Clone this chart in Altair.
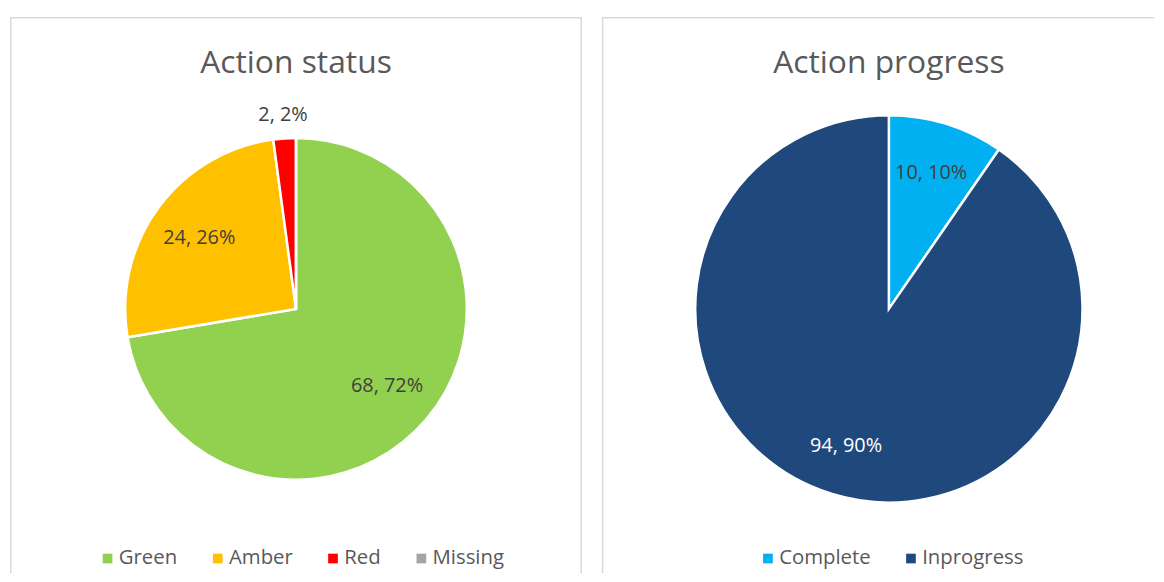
import altair as alt
import pandas as pd

# ---- data ----
STATUS_TITLE = "Action status"
STATUS_CATS = ["Green", "Amber", "Red", "Missing"]
STATUS_VALUES = [68, 24, 2, 0]

PROGRESS_TITLE = "Action progress"
PROGRESS_CATS = ["Complete", "Inprogress"]
PROGRESS_VALUES = [10, 94]

# ---- styling ----
STATUS_COLORS = ["#92D050", "#FFC000", "#FF0000", "#A5A5A5"]
PROGRESS_COLORS = ["#00B0F0", "#1F497D"]
STATUS_LABEL_R = {"Green": 120, "Amber": 121, "Red": 196, "Missing": 100}
PROGRESS_LABEL_R = {"Complete": 143, "Inprogress": 145}
WHITE_LABELS = ["Inprogress"]

FONT = "Open Sans"
TEXT_GREY = "#595959"
LABEL_GREY = "#404040"
BORDER = "#D9D9D9"
H = 560


def lookup_expr(mapping, default):
    expr = repr(default)
    for k, v in mapping.items():
        expr = f"datum.cat === '{k}' ? {repr(v)} : ({expr})"
    return expr


def panel(title, cats, values, colors, label_r, width, cx, cy,
          radius, legend_x, legend_y, right_border):
    df = pd.DataFrame({"cat": cats, "value": values, "idx": list(range(len(cats)))})
    base = alt.Chart(df)
    order = alt.Order("idx:Q")

    one = pd.DataFrame({"f": [0]})
    borders = [
        alt.Chart(one).mark_rule(color=BORDER, strokeWidth=1.5).encode(
            x=alt.value(0.75), y=alt.value(0), y2=alt.value(H)),
        alt.Chart(one).mark_rule(color=BORDER, strokeWidth=1.5).encode(
            x=alt.value(0), x2=alt.value(width), y=alt.value(0.75)),
    ]
    if right_border:
        borders.append(
            alt.Chart(one).mark_rule(color=BORDER, strokeWidth=1.5).encode(
                x=alt.value(width - 0.75), y=alt.value(0), y2=alt.value(H)))

    arcs = base.mark_arc(outerRadius=radius, stroke="white", strokeWidth=2.5).encode(
        theta=alt.Theta("value:Q", stack=True),
        order=order,
        color=alt.Color(
            "cat:N",
            sort=cats,
            scale=alt.Scale(domain=cats, range=colors),
            legend=alt.Legend(
                title=None,
                orient="none",
                direction="horizontal",
                legendX=legend_x,
                legendY=legend_y,
                padding=0,
                symbolType="square",
                symbolSize=95,
                symbolStrokeWidth=0,
                labelFont=FONT,
                labelFontSize=20.5,
                labelColor=TEXT_GREY,
                labelOffset=1,
                columnPadding=30,
            ),
        ),
        x=alt.value(cx),
        y=alt.value(cy),
    )

    white_test = " || ".join(f"datum.cat === '{c}'" for c in WHITE_LABELS)
    labels = (
        base.transform_joinaggregate(total="sum(value)")
        .transform_window(cum="sum(value)", sort=[alt.SortField("idx")], frame=[None, 0])
        .transform_calculate(
            mid="datum.cum - datum.value / 2",
            pct="round(datum.value / datum.total * 100)",
            label="datum.value + ', ' + datum.pct + '%'",
            lr=lookup_expr(label_r, 100),
        )
        .transform_filter("datum.value > 0")
        .mark_text(font=FONT, fontSize=20)
        .encode(
            theta=alt.Theta("mid:Q", stack=None),
            radius=alt.Radius("lr:Q", scale=None),
            text="label:N",
            color=alt.condition(white_test, alt.value("#FFFFFF"), alt.value(LABEL_GREY)),
            x=alt.value(cx),
            y=alt.value(cy),
        )
    )

    ttl = alt.Chart(pd.DataFrame({"t": [title]})).mark_text(
        font=FONT, fontSize=32, color=TEXT_GREY, baseline="alphabetic", align="center"
    ).encode(text="t:N", x=alt.value(cx), y=alt.value(56))

    return alt.layer(*borders, arcs, labels, ttl).properties(width=width, height=H)


left = panel(STATUS_TITLE, STATUS_CATS, STATUS_VALUES, STATUS_COLORS,
             STATUS_LABEL_R, 576, 288, 294, 172, 88, 535, True)
right = panel(PROGRESS_TITLE, PROGRESS_CATS, PROGRESS_VALUES, PROGRESS_COLORS,
              PROGRESS_LABEL_R, 556, 289, 294, 195, 157, 535, False)

chart = (
    alt.hconcat(left, right, spacing=16)
    .resolve_scale(color="independent", theta="independent")
    .properties(padding={"left": 0, "top": 5, "right": 0, "bottom": 0}, background="white")
    .configure_view(stroke="transparent")
)

chart.save("out.html", embed_options={"renderer": "svg", "actions": False})
